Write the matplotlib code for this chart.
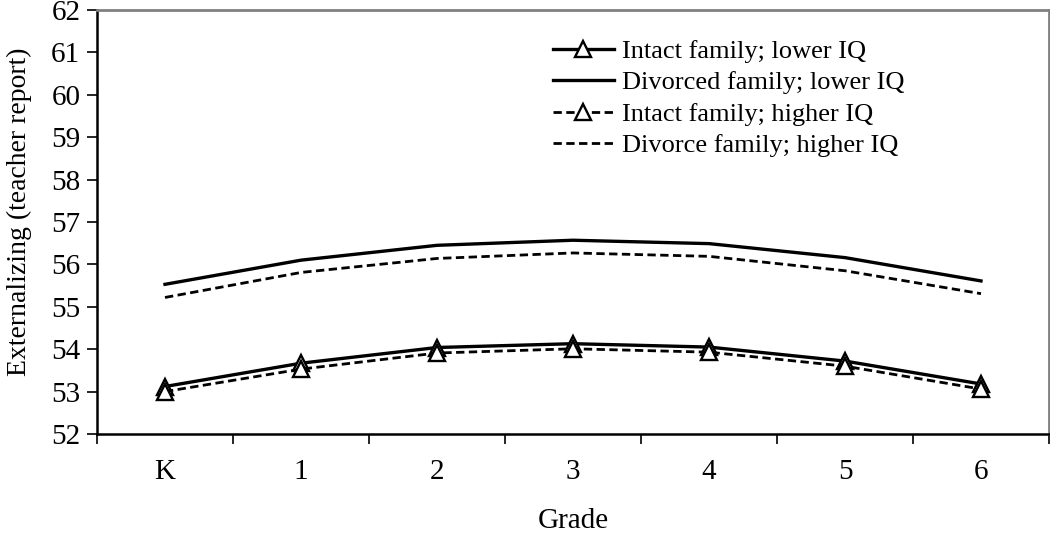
import matplotlib
matplotlib.use("Agg")
import matplotlib.pyplot as plt
import numpy as np

plt.rcParams['font.family'] = ['Liberation Serif', 'DejaVu Serif']

grades = ["K", "1", "2", "3", "4", "5", "6"]
intact_lower = [53.12, 53.67, 54.04, 54.13, 54.05, 53.72, 53.18]
divorced_lower = [55.53, 56.10, 56.45, 56.57, 56.49, 56.16, 55.61]
intact_higher = [53.00, 53.53, 53.91, 54.01, 53.93, 53.60, 53.06]
divorced_higher = [55.22, 55.81, 56.14, 56.27, 56.19, 55.85, 55.31]

fig = plt.figure(figsize=(10.5, 5.36), dpi=100)
ax = fig.add_axes([97 / 1050, 102 / 536, 952 / 1050, 424 / 536])

x = np.arange(len(grades))
dash = (0, (3, 1.6))
tri = dict(marker='^', markersize=11, markerfacecolor='white',
           markeredgecolor='black', markeredgewidth=1.7)

ax.plot(x, intact_lower, color='black', lw=2.4, label='Intact family; lower IQ', **tri)
ax.plot(x, divorced_lower, color='black', lw=2.4, label='Divorced family; lower IQ')
ax.plot(x, intact_higher, color='black', lw=2.0, ls=dash, label='Intact family; higher IQ', **tri)
ax.plot(x, divorced_higher, color='black', lw=2.0, ls=dash, label='Divorce family; higher IQ')

ax.set_xlim(-0.5, len(grades) - 0.5)
ax.set_ylim(52, 62)
ax.set_yticks(np.arange(52, 63, 1))
ax.set_xticks(x)
ax.set_xticklabels(grades)
ax.set_xticks(np.arange(-0.5, len(grades)), minor=True)
ax.tick_params(axis='x', which='major', length=0, pad=18, labelsize=21)
ax.tick_params(axis='x', which='minor', length=7, width=1.2, direction='out')
ax.tick_params(axis='y', length=7, width=1.2, direction='out', labelsize=21, pad=5)

for s in ['left', 'bottom']:
    ax.spines[s].set_color('black')
    ax.spines[s].set_linewidth(1.8)
for s in ['top', 'right']:
    ax.spines[s].set_color('#808080')
    ax.spines[s].set_linewidth(2.0)

ax.set_ylabel('Externalizing (teacher report)', fontsize=20)
ax.yaxis.set_label_coords(-0.068, 0.524)
ax.set_xlabel('Grade', fontsize=21, va='center')
ax.xaxis.set_label_coords(0.5, -0.205)

ax.legend(loc='upper left', bbox_to_anchor=(0.468, 0.955), frameon=False,
          fontsize=19, handlelength=2.3, handletextpad=0.3, labelspacing=0.3,
          borderaxespad=0)

fig.savefig('out.png', dpi=100)
